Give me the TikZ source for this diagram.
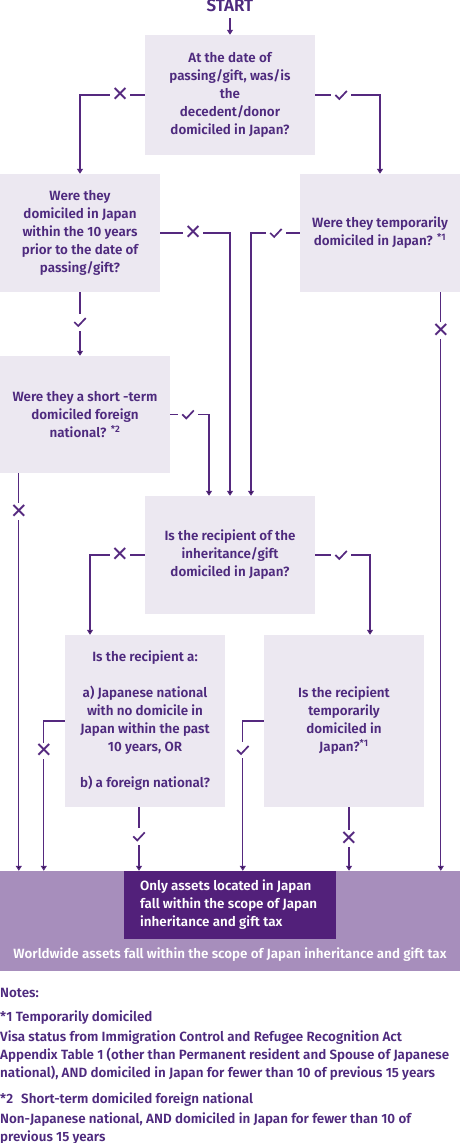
\documentclass[tikz,border=0pt]{standalone}
\usepackage{fontspec}
\setmainfont{Fira Sans}[UprightFont={* SemiBold}, BoldFont={* Bold}]
\newfontfamily\symf{DejaVu Sans}
\usetikzlibrary{arrows.meta}
\definecolor{ink}{HTML}{4E2A7E}
\definecolor{lnc}{HTML}{55297F}
\definecolor{boxbg}{HTML}{ECE8F1}
\definecolor{bandc}{HTML}{A78EBC}
\definecolor{darkc}{HTML}{52207A}
\newcommand\chkmk{\tikz[x=1pt,y=1pt,baseline=0pt]\draw[draw=lnc, -, line width=1.7pt, line join=miter] (0,5) -- (4,1) -- (11.5,9);}
\begin{document}
\begin{tikzpicture}[x=1pt,y=-1pt, font=\fontsize{13.4}{18}\selectfont, text=ink,
  q/.style={fill=boxbg, draw=none, align=center, text=ink, inner sep=0pt},
  ln/.style={draw=lnc, line width=1.2pt},
  arr/.style={ln, -{Triangle[width=6pt,length=5pt]}},
  mk/.style={fill=white, inner sep=1.5pt, text=lnc},
  mx/.style={mk, font=\symf\bfseries\fontsize{21}{21}\selectfont},
  mc/.style={mk, inner xsep=3.5pt, inner ysep=3.5pt},
  nt/.style={anchor=base west, inner sep=0pt, text=ink}]
\useasboundingbox (0,0) rectangle (460,1143);

\node[inner sep=0pt, anchor=base, font=\fontsize{17}{17}\selectfont] (start) at (230,11) {START};

\node[q, minimum width=170, minimum height=120] (b1) at (230,95)
  {At the date of\\passing/gift, was/is\\the\\decedent/donor\\domiciled in Japan?};
\node[q, minimum width=160, minimum height=118] (b2) at (80,233)
  {Were they\\domiciled in Japan\\within the 10 years\\prior to the date of\\passing/gift?};
\node[q, minimum width=160, minimum height=118] (b3) at (380,233)
  {Were they temporarily\\domiciled in Japan? \textsuperscript{*1}};
\node[q, minimum width=170, minimum height=117] (b5) at (85,414.5)
  {Were they a short -term\\domiciled foreign\\national? \textsuperscript{*2}};
\node[q, minimum width=170, minimum height=118] (b4) at (230,555)
  {Is the recipient of the\\inheritance/gift\\domiciled in Japan?};
\node[q, minimum width=160, minimum height=172] (b6) at (145,721)
  {Is the recipient a:\\[18pt]a) Japanese national\\with no domicile in\\Japan within the past\\10 years, OR\\[18pt]b) a foreign national?};
\node[q, minimum width=160, minimum height=172] (b7) at (344,721)
  {Is the recipient\\temporarily\\domiciled in\\Japan?\textsuperscript{*1}};

\node[fill=bandc, inner sep=0pt, minimum width=460, minimum height=100] (band) at (230,921) {};
\node[fill=darkc, inner sep=0pt, minimum width=212, minimum height=68] (only) at (230,905) {};
\node[anchor=west, align=left, text=white, inner sep=0pt] (onlyt) at (140,905)
  {Only assets located in Japan\\fall within the scope of Japan\\inheritance and gift tax};
\node[text=white, inner sep=0pt] (wt) at (230,955)
  {Worldwide assets fall within the scope of Japan inheritance and gift tax};

% offset coordinates
\coordinate (b4a) at ([xshift=21]b4.north);
\coordinate (b4b) at ([xshift=-21]b4.north);
\coordinate (b5s) at ([xshift=19]b5.south west);
\coordinate (b3s) at ([xshift=141]b3.south west);
\coordinate (b6n) at ([xshift=-55]b6.north);
\coordinate (b7n) at ([xshift=26]b7.north);
\coordinate (b6l) at ([xshift=-21]b6.west);
\coordinate (b6s) at ([xshift=-6]b6.south);
\coordinate (b7l) at ([xshift=-21]b7.west);
\coordinate (b7s) at ([xshift=5]b7.south);

\draw[arr] ([yshift=-7]start.base) -- (b1.north);
\draw[arr] (b1.west) -| node[mx,pos=0.19]{✕} (b2.north);
\draw[arr] (b1.east) -| node[mc,pos=0.2]{\chkmk} (b3.north);
\draw[arr] (b2.east) -| node[mx,pos=0.236]{✕} (b4.north);
\draw[arr] (b3.west) -| node[mc,pos=0.245]{\chkmk} (b4a);
\draw[arr] (b2.south) -- node[mc,pos=0.47]{\chkmk} (b2.south |- b5.north);
\draw[arr] (b5.east) -| node[mc,pos=0.23]{\chkmk} (b4b);
\draw[arr] (b5s) -- node[mx,pos=0.096]{✕} (b5s |- band.north);
\draw[arr] (b3s) -- node[mx,pos=0.066]{✕} (b3s |- band.north);
\draw[arr] (b4.west) -| node[mx,pos=0.227]{✕} (b6n);
\draw[arr] (b4.east) -| node[mc,pos=0.236]{\chkmk} (b7n);
\draw[arr] (b6.west) -| node[mx,pos=0.6]{✕} (b6l |- band.north);
\draw[arr] (b6s) -- node[mc,pos=0.46]{\chkmk} (b6s |- band.north);
\draw[arr] (b7.west) -| node[mc,pos=0.597]{\chkmk} (b7l |- band.north);
\draw[arr] (b7s) -- node[mx,pos=0.49]{✕} (b7s |- band.north);

\node[nt] (n0) at (0,997) {Notes:};
\node[nt] (n1) at (0,1021) {*1 Temporarily domiciled};
\node[nt] (n2) at (0,1041) {Visa status from Immigration Control and Refugee Recognition Act};
\node[nt] (n3) at (0,1059) {Appendix Table 1 (other than Permanent resident and Spouse of Japanese};
\node[nt] (n4) at (0,1077) {national), AND domiciled in Japan for fewer than 10 of previous 15 years};
\node[nt] (n5) at (0,1103) {*2\hspace{8pt}Short-term domiciled foreign national};
\node[nt] (n6) at (0,1123) {Non-Japanese national, AND domiciled in Japan for fewer than 10 of};
\node[nt] (n7) at (0,1141) {previous 15 years};
\end{tikzpicture}
\end{document}
